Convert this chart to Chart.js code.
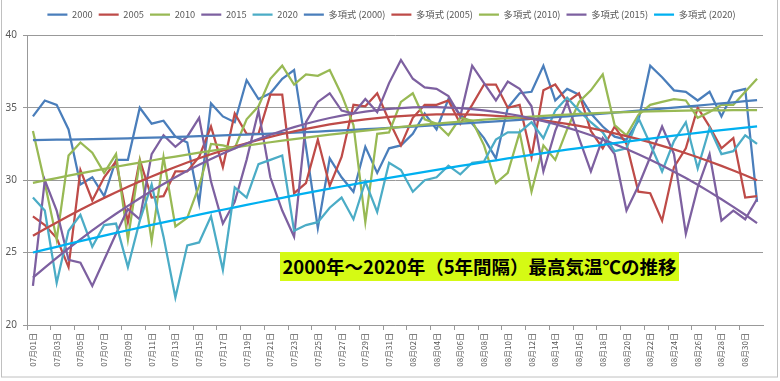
<!DOCTYPE html>
<html><head><meta charset="utf-8">
<script src="https://cdn.jsdelivr.net/npm/chart.js@4.4.0/dist/chart.umd.min.js"></script>
<style>
html,body{margin:0;padding:0;background:#fff;overflow:hidden;}
#wrap{position:relative;width:780px;height:381px;}
#c{position:absolute;left:0;top:0;}
#title{position:absolute;left:280px;top:252px;width:399px;height:29px;background:#d5fa14;font:bold 18.5px "Noto Sans CJK JP";line-height:29px;color:#000;text-align:center;white-space:nowrap;}
</style></head><body>
<div id="wrap"><canvas id="c" width="780" height="381"></canvas><div id="title">2000年～2020年（5年間隔）最高気温℃の推移</div></div>
<script>
const categories = [
 '07月01日','07月02日','07月03日','07月04日','07月05日','07月06日','07月07日','07月08日','07月09日','07月10日',
 '07月11日','07月12日','07月13日','07月14日','07月15日','07月16日','07月17日','07月18日','07月19日','07月20日',
 '07月21日','07月22日','07月23日','07月24日','07月25日','07月26日','07月27日','07月28日','07月29日','07月30日','07月31日',
 '08月01日','08月02日','08月03日','08月04日','08月05日','08月06日','08月07日','08月08日','08月09日','08月10日',
 '08月11日','08月12日','08月13日','08月14日','08月15日','08月16日','08月17日','08月18日','08月19日','08月20日',
 '08月21日','08月22日','08月23日','08月24日','08月25日','08月26日','08月27日','08月28日','08月29日','08月30日','08月31日'
];
const seriesNames = ['2000','2005','2010','2015','2020'];
const temp2000 = [34.4,35.5,35.2,33.5,29.7,30.2,28.9,31.4,31.4,35.0,33.9,34.1,33.0,32.6,28.4,35.3,34.4,34.0,36.9,35.6,
 36.0,37.0,37.6,32.3,26.7,31.5,30.2,29.2,32.3,30.5,32.2,32.4,33.2,34.6,33.5,35.6,34.5,33.9,32.9,31.5,
 35.0,36.0,36.1,37.9,35.5,36.3,35.9,34.6,33.7,33.0,32.8,34.1,37.9,37.1,36.2,36.1,35.5,36.1,34.4,36.1,36.3,28.5];
const temp2005 = [27.5,26.9,26.0,24.0,30.7,28.6,30.2,31.3,27.1,31.4,28.8,28.9,30.6,30.6,31.6,33.7,30.9,34.6,33.2,33.2,
 35.9,35.9,29.1,29.8,32.8,29.6,31.6,35.2,35.1,36.0,34.1,32.4,34.3,35.2,35.2,35.5,33.9,35.2,36.6,36.6,
 35.0,35.2,31.6,36.2,36.6,35.4,36.0,33.4,32.2,33.7,32.5,29.2,29.1,27.2,30.9,32.2,35.0,33.7,32.2,32.9,28.8,28.9];
const temp2010 = [33.4,29.8,25.9,31.7,32.6,31.9,30.5,31.8,25.9,31.3,25.8,31.6,26.8,27.4,29.6,32.5,32.4,32.2,34.2,35.1,
 37.0,37.9,36.6,37.3,37.2,37.6,35.9,33.8,27.1,33.2,33.3,35.4,36.0,34.2,33.9,33.1,34.3,34.1,32.4,29.8,
 30.5,33.3,29.2,32.4,31.4,33.5,35.4,36.2,37.3,33.8,33.1,34.5,35.2,35.4,35.6,35.5,34.3,34.7,35.2,35.2,36.1,37.0];
const temp2015 = [22.7,30.0,27.9,24.5,24.3,22.7,24.5,26.3,28.0,27.3,31.8,33.1,32.3,33.0,34.3,29.9,27.0,28.5,31.4,34.8,
 30.2,27.9,26.1,34.0,35.4,36.0,34.8,34.6,35.6,34.7,36.7,38.3,37.0,36.4,36.3,35.8,34.4,37.9,36.7,35.5,
 36.8,36.3,35.1,30.6,33.4,35.4,32.9,30.6,32.9,31.8,27.9,29.6,31.6,33.7,31.8,26.3,29.5,31.8,27.2,27.9,27.3,28.7];
const temp2020 = [28.8,27.9,22.9,26.5,27.6,25.4,26.9,27.0,24.0,27.2,29.7,26.1,21.9,25.5,25.7,27.5,23.8,29.5,28.8,31.1,
 31.4,31.7,26.5,26.9,27.1,28.1,28.8,27.3,29.9,27.8,31.2,30.7,29.2,30.0,30.2,31.0,30.4,31.2,31.3,32.8,
 33.3,33.3,34.0,32.9,34.8,35.7,34.8,34.0,33.3,32.0,32.2,34.3,32.5,30.6,32.7,34.0,30.8,33.6,31.8,32.0,33.1,32.5];
const yTicks = [20,25,30,35,40];

const seriesValues = [temp2000,temp2005,temp2010,temp2015,temp2020];
const seriesColors = ['#4a7ebb','#be4b48','#98b954','#7d60a0','#4bacc6'];
const trendColors  = ['#4a7ebb','#be4b48','#98b954','#7d60a0','#00b0f0'];

// Excel-style polynomial (order 2) least-squares trendline computed from the data
function polyTrend(ys){
  const n = ys.length, m = (n+1)/2;
  const S = [0,0,0,0,0], T = [0,0,0];
  ys.forEach((y,i)=>{ const x=(i+1)-m; let p=1; for(let k=0;k<5;k++){ S[k]+=p; if(k<3) T[k]+=p*y; p*=x; } });
  const A = [[S[0],S[1],S[2],T[0]],[S[1],S[2],S[3],T[1]],[S[2],S[3],S[4],T[2]]];
  for(let c=0;c<3;c++){ for(let r=c+1;r<3;r++){ const f=A[r][c]/A[c][c]; for(let k=c;k<4;k++) A[r][k]-=f*A[c][k]; } }
  const a=[0,0,0];
  for(let r=2;r>=0;r--){ let s=A[r][3]; for(let k=r+1;k<3;k++) s-=A[r][k]*a[k]; a[r]=s/A[r][r]; }
  return ys.map((_,i)=>{ const x=(i+1)-m; return a[0]+a[1]*x+a[2]*x*x; });
}

const datasets = [];
seriesNames.forEach((name,k)=>{
  datasets.push({label:name, data:seriesValues[k], borderColor:seriesColors[k], backgroundColor:seriesColors[k],
    borderWidth:2.25, pointRadius:0, pointHoverRadius:0, tension:0, order:9-k});
});
seriesNames.forEach((name,k)=>{
  datasets.push({label:'多項式 ('+name+')', data:polyTrend(seriesValues[k]), borderColor:trendColors[k], backgroundColor:trendColors[k],
    borderWidth:2.25, pointRadius:0, pointHoverRadius:0, tension:0, order:4-k});
});

const frame = {
  id:'frame',
  afterLayout(chart){ if(chart.legend){ chart.legend.left += 10; chart.legend.right += 10; } },
  afterDraw(chart){
    const ctx=chart.ctx; ctx.save(); ctx.strokeStyle='#c0c0c0'; ctx.lineWidth=1;
    ctx.strokeRect(1.5,-0.5,776,377.5); ctx.restore();
  }
};

const chart = new Chart(document.getElementById('c'), {
  type:'line',
  data:{labels:categories, datasets},
  plugins:[frame],
  options:{
    responsive:false, animation:false, devicePixelRatio:1,
    layout:{padding:{top:4,right:17,bottom:0,left:0}},
    plugins:{
      tooltip:{enabled:false},
      legend:{position:'top', align:'center',
        labels:{usePointStyle:true, pointStyle:'line', pointStyleWidth:20, padding:6, color:'#595959',
          font:{family:'"Noto Sans CJK JP"', size:9.3},
          sort:(a,b)=>a.datasetIndex-b.datasetIndex}}
    },
    scales:{
      x:{offset:true,
        grid:{display:true, drawOnChartArea:false, offset:true, tickLength:5,
          color:(c)=> (c.index%2===0 ? '#999999' : 'rgba(0,0,0,0)')},
        border:{display:true,color:'#999999',width:1},
        ticks:{autoSkip:false, maxRotation:90, minRotation:90, padding:3, color:'#595959',
          font:{family:'"Noto Sans CJK JP"', size:8},
          callback:(v,i)=> (i%2===0 ? categories[i] : '')},
        afterFit:(s)=>{ s.height=56; }
      },
      y:{min:yTicks[0], max:yTicks[yTicks.length-1],
        afterBuildTicks:(s)=>{ s.ticks = yTicks.map(v=>({value:v})); },
        grid:{color:'#999999', tickLength:4, lineWidth:1},
        border:{display:true,color:'#999999'},
        ticks:{padding:6, color:'#595959', font:{family:'"Noto Sans"', size:10}},
        afterFit:(s)=>{ s.width=27; }
      }
    }
  }
});
const lg = chart.legend; const of = lg.fit;
lg.fit = function(){ of.call(this); this.height += 6; };
chart.update('none');
</script>
</body></html>
